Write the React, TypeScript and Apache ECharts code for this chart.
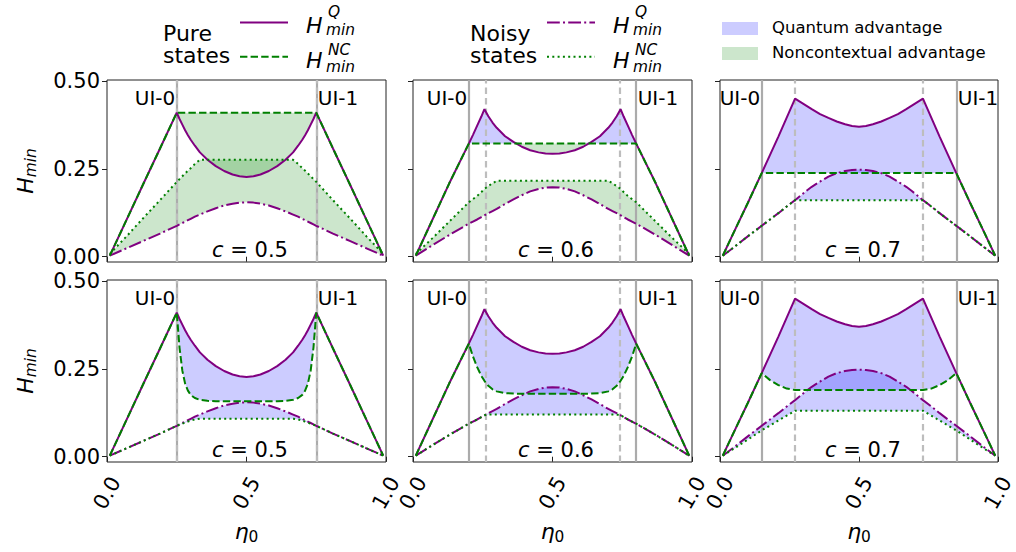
import React, { useEffect, useRef } from "react";
import * as echarts from "echarts";

// ---------- data ----------
// column 1 : c = 0.5
const ETA_05 = [0.01, 0.07, 0.13, 0.19, 0.25, 0.26, 0.27, 0.28, 0.29, 0.30, 0.315, 0.333, 0.36, 0.39, 0.42, 0.45, 0.475, 0.50, 0.525, 0.55, 0.58, 0.61, 0.64, 0.667, 0.685, 0.70, 0.71, 0.72, 0.73, 0.74, 0.75, 0.81, 0.87, 0.93, 0.99];
const PURE_Q_05 = [0.003, 0.105, 0.207, 0.308, 0.410, 0.392, 0.376, 0.360, 0.346, 0.333, 0.316, 0.297, 0.276, 0.258, 0.244, 0.234, 0.229, 0.227, 0.229, 0.234, 0.244, 0.258, 0.276, 0.297, 0.316, 0.333, 0.346, 0.360, 0.376, 0.392, 0.410, 0.308, 0.207, 0.105, 0.003];
const NOISY_Q_05 = [0.003, 0.024, 0.045, 0.066, 0.088, 0.092, 0.096, 0.100, 0.104, 0.108, 0.114, 0.120, 0.129, 0.138, 0.146, 0.151, 0.154, 0.155, 0.154, 0.151, 0.146, 0.138, 0.129, 0.120, 0.114, 0.108, 0.104, 0.100, 0.096, 0.092, 0.088, 0.066, 0.045, 0.024, 0.003];
const PURE_NC_TOP_05 = [0.003, 0.105, 0.207, 0.308, 0.410, 0.410, 0.410, 0.410, 0.410, 0.410, 0.410, 0.410, 0.410, 0.410, 0.410, 0.410, 0.410, 0.410, 0.410, 0.410, 0.410, 0.410, 0.410, 0.410, 0.410, 0.410, 0.410, 0.410, 0.410, 0.410, 0.410, 0.308, 0.207, 0.105, 0.003];
const NOISY_NC_TOP_05 = [0.008, 0.058, 0.110, 0.161, 0.213, 0.221, 0.229, 0.237, 0.245, 0.252, 0.264, 0.276, 0.276, 0.276, 0.276, 0.276, 0.276, 0.276, 0.276, 0.276, 0.276, 0.276, 0.276, 0.276, 0.264, 0.252, 0.245, 0.237, 0.229, 0.221, 0.213, 0.161, 0.110, 0.058, 0.008];
const PURE_NC_BOT_05 = [0.003, 0.105, 0.207, 0.308, 0.410, 0.310, 0.245, 0.208, 0.188, 0.176, 0.167, 0.162, 0.159, 0.158, 0.158, 0.158, 0.158, 0.158, 0.158, 0.158, 0.158, 0.158, 0.159, 0.162, 0.167, 0.176, 0.188, 0.208, 0.245, 0.310, 0.410, 0.308, 0.207, 0.105, 0.003];
const NOISY_NC_BOT_05 = [0.003, 0.024, 0.045, 0.066, 0.088, 0.091, 0.094, 0.097, 0.100, 0.103, 0.106, 0.108, 0.108, 0.108, 0.108, 0.108, 0.108, 0.108, 0.108, 0.108, 0.108, 0.108, 0.108, 0.108, 0.106, 0.103, 0.100, 0.097, 0.094, 0.091, 0.088, 0.066, 0.045, 0.024, 0.003];

// column 2 : c = 0.6
const ETA_06 = [0.01, 0.07, 0.13, 0.20, 0.215, 0.23, 0.245, 0.256, 0.27, 0.285, 0.30, 0.33, 0.36, 0.39, 0.42, 0.45, 0.475, 0.50, 0.525, 0.55, 0.58, 0.61, 0.64, 0.67, 0.70, 0.715, 0.73, 0.744, 0.755, 0.77, 0.785, 0.80, 0.87, 0.93, 0.99];
const PURE_Q_06 = [0.003, 0.106, 0.209, 0.322, 0.347, 0.373, 0.399, 0.420, 0.400, 0.382, 0.367, 0.343, 0.327, 0.313, 0.303, 0.297, 0.294, 0.293, 0.294, 0.297, 0.303, 0.313, 0.327, 0.343, 0.367, 0.382, 0.400, 0.420, 0.399, 0.373, 0.347, 0.322, 0.209, 0.106, 0.003];
const NOISY_Q_06 = [0.003, 0.033, 0.062, 0.094, 0.100, 0.106, 0.113, 0.118, 0.124, 0.130, 0.136, 0.150, 0.163, 0.175, 0.186, 0.193, 0.197, 0.198, 0.197, 0.193, 0.186, 0.175, 0.163, 0.150, 0.136, 0.130, 0.124, 0.118, 0.113, 0.106, 0.100, 0.094, 0.062, 0.033, 0.003];
const PURE_NC_TOP_06 = [0.003, 0.106, 0.209, 0.322, 0.322, 0.322, 0.322, 0.322, 0.322, 0.322, 0.322, 0.322, 0.322, 0.322, 0.322, 0.322, 0.322, 0.322, 0.322, 0.322, 0.322, 0.322, 0.322, 0.322, 0.322, 0.322, 0.322, 0.322, 0.322, 0.322, 0.322, 0.322, 0.209, 0.106, 0.003];
const NOISY_NC_TOP_06 = [0.008, 0.053, 0.100, 0.155, 0.164, 0.173, 0.184, 0.193, 0.201, 0.209, 0.216, 0.216, 0.216, 0.216, 0.216, 0.216, 0.216, 0.216, 0.216, 0.216, 0.216, 0.216, 0.216, 0.216, 0.216, 0.209, 0.201, 0.193, 0.184, 0.173, 0.164, 0.155, 0.100, 0.053, 0.008];
const PURE_NC_BOT_06 = [0.003, 0.106, 0.209, 0.322, 0.285, 0.255, 0.230, 0.216, 0.202, 0.192, 0.186, 0.181, 0.180, 0.179, 0.179, 0.179, 0.179, 0.179, 0.179, 0.179, 0.179, 0.179, 0.180, 0.181, 0.186, 0.192, 0.202, 0.216, 0.230, 0.255, 0.285, 0.322, 0.209, 0.106, 0.003];
const NOISY_NC_BOT_06 = [0.003, 0.033, 0.062, 0.094, 0.100, 0.106, 0.113, 0.118, 0.120, 0.120, 0.120, 0.120, 0.120, 0.120, 0.120, 0.120, 0.120, 0.120, 0.120, 0.120, 0.120, 0.120, 0.120, 0.120, 0.120, 0.120, 0.120, 0.118, 0.113, 0.106, 0.100, 0.094, 0.062, 0.033, 0.003];

// column 3 : c = 0.7
const ETA_07 = [0.01, 0.05, 0.10, 0.15, 0.18, 0.21, 0.24, 0.27, 0.29, 0.31, 0.33, 0.36, 0.39, 0.42, 0.45, 0.475, 0.50, 0.525, 0.55, 0.58, 0.61, 0.64, 0.67, 0.69, 0.71, 0.73, 0.76, 0.79, 0.82, 0.85, 0.90, 0.95, 0.99];
const PURE_Q_07 = [0.003, 0.070, 0.153, 0.238, 0.290, 0.342, 0.396, 0.450, 0.440, 0.430, 0.420, 0.406, 0.395, 0.385, 0.377, 0.372, 0.370, 0.372, 0.377, 0.385, 0.395, 0.406, 0.420, 0.430, 0.440, 0.450, 0.396, 0.342, 0.290, 0.238, 0.153, 0.070, 0.003];
const NOISY_Q_07 = [0.003, 0.027, 0.058, 0.088, 0.106, 0.124, 0.143, 0.161, 0.174, 0.187, 0.199, 0.214, 0.228, 0.238, 0.244, 0.247, 0.248, 0.247, 0.244, 0.238, 0.228, 0.214, 0.199, 0.187, 0.174, 0.161, 0.143, 0.124, 0.106, 0.088, 0.058, 0.027, 0.003];
const PURE_NC_TOP_07 = [0.003, 0.070, 0.153, 0.238, 0.238, 0.238, 0.238, 0.238, 0.238, 0.238, 0.238, 0.238, 0.238, 0.238, 0.238, 0.238, 0.238, 0.238, 0.238, 0.238, 0.238, 0.238, 0.238, 0.238, 0.238, 0.238, 0.238, 0.238, 0.238, 0.238, 0.153, 0.070, 0.003];
const NOISY_NC_TOP_07 = [0.003, 0.027, 0.058, 0.088, 0.106, 0.124, 0.143, 0.161, 0.161, 0.161, 0.161, 0.161, 0.161, 0.161, 0.161, 0.161, 0.161, 0.161, 0.161, 0.161, 0.161, 0.161, 0.161, 0.161, 0.161, 0.161, 0.143, 0.124, 0.106, 0.088, 0.058, 0.027, 0.003];
const PURE_NC_BOT_07 = [0.003, 0.070, 0.153, 0.238, 0.218, 0.204, 0.194, 0.190, 0.190, 0.190, 0.190, 0.190, 0.190, 0.190, 0.190, 0.190, 0.190, 0.190, 0.190, 0.190, 0.190, 0.190, 0.190, 0.190, 0.190, 0.190, 0.194, 0.204, 0.218, 0.238, 0.153, 0.070, 0.003];
const NOISY_NC_BOT_07 = [0.003, 0.023, 0.049, 0.075, 0.089, 0.103, 0.117, 0.131, 0.131, 0.131, 0.131, 0.131, 0.131, 0.131, 0.131, 0.131, 0.131, 0.131, 0.131, 0.131, 0.131, 0.131, 0.131, 0.131, 0.131, 0.131, 0.117, 0.103, 0.089, 0.075, 0.049, 0.023, 0.003];

const C_LABELS = ["0.5", "0.6", "0.7"];
const UI_EDGES = [[0.25, 0.75], [0.2, 0.8], [0.15, 0.85]];
const PEAKS = [[0.25, 0.75], [0.256, 0.744], [0.27, 0.73]];
const Y_TICKS = [0, 0.25, 0.5];
const UI_LABELS = ["UI-0", "UI-1"];
const FILL_LABELS = ["Quantum advantage", "Noncontextual advantage"];
const LEGEND_TITLES = ["Pure\nstates", "Noisy\nstates"];

// ---------- layout / style ----------
const Y_MIN = -0.015;
const Y_MAX = 0.503;
const COLS = [
  { left: 107, width: 279 },
  { left: 413, width: 279 },
  { left: 720, width: 278 },
];
const ROWS = [
  { top: 80, height: 182 },
  { top: 280, height: 182 },
];
const FONT = "'DejaVu Sans', sans-serif";
const PURPLE = "#800080";
const GREEN = "#008000";
const BLUE_FILL = "rgba(0,0,255,0.2)";
const GREEN_FILL = "rgba(0,128,0,0.2)";
const DASHED = [7.4, 3.2];
const DASHDOT = [12.8, 3.2, 2, 3.2];
const DOTTED = [2, 3.3];
const AXIS_COLOR = "#222";

const COLUMNS = [
  { eta: ETA_05, pureQ: PURE_Q_05, noisyQ: NOISY_Q_05, pureNC: [PURE_NC_TOP_05, PURE_NC_BOT_05], noisyNC: [NOISY_NC_TOP_05, NOISY_NC_BOT_05] },
  { eta: ETA_06, pureQ: PURE_Q_06, noisyQ: NOISY_Q_06, pureNC: [PURE_NC_TOP_06, PURE_NC_BOT_06], noisyNC: [NOISY_NC_TOP_06, NOISY_NC_BOT_06] },
  { eta: ETA_07, pureQ: PURE_Q_07, noisyQ: NOISY_Q_07, pureNC: [PURE_NC_TOP_07, PURE_NC_BOT_07], noisyNC: [NOISY_NC_TOP_07, NOISY_NC_BOT_07] },
];

const px = (col: number, eta: number) => COLS[col].left + eta * COLS[col].width;

function fillBetween(p: number, eta: number[], a: number[], b: number[], color: string) {
  // region where a > b, drawn between b and max(a, b)
  return {
    type: "custom",
    xAxisIndex: p,
    yAxisIndex: p,
    silent: true,
    z: 1,
    data: [[0.5, 0.2]],
    renderItem: (_params: any, api: any) => {
      const pts: number[][] = [];
      for (let i = 0; i < eta.length; i++) pts.push(api.coord([eta[i], Math.max(a[i], b[i])]));
      for (let i = eta.length - 1; i >= 0; i--) pts.push(api.coord([eta[i], b[i]]));
      return { type: "polygon", shape: { points: pts }, style: { fill: color, stroke: null } };
    },
  };
}

function lineSeries(p: number, eta: number[], vals: number[], color: string, dash: any, z: number, extra: any = {}) {
  return {
    type: "line",
    xAxisIndex: p,
    yAxisIndex: p,
    data: eta.map((x, i) => [x, vals[i]]),
    symbol: "none",
    showSymbol: false,
    silent: true,
    z,
    lineStyle: { color, width: 2, type: dash, cap: "butt" },
    emphasis: { disabled: true },
    ...extra,
  };
}

function textEl(text: string, x: number, y: number, size: number, align: string, extra: any = {}) {
  return {
    type: "text",
    x,
    y,
    silent: true,
    style: {
      text,
      fill: "#000",
      fontSize: size,
      fontFamily: FONT,
      align,
      textAlign: align,
      verticalAlign: "middle",
      textVerticalAlign: "middle",
      ...extra,
    },
  };
}

function vline(x: number, color: string, dash: any) {
  return { xAxis: x, lineStyle: { color, width: 2.2, type: dash, opacity: 1 } };
}

function buildOption() {
  const grid: any[] = [];
  const xAxis: any[] = [];
  const yAxis: any[] = [];
  const series: any[] = [];
  const graphic: any[] = [];

  for (let row = 0; row < 2; row++) {
    for (let col = 0; col < 3; col++) {
      const p = row * 3 + col;
      grid.push({
        left: COLS[col].left,
        top: ROWS[row].top,
        width: COLS[col].width,
        height: ROWS[row].height,
        show: true,
        borderColor: AXIS_COLOR,
        borderWidth: 1,
        backgroundColor: "transparent",
        containLabel: false,
        outerBoundsMode: "none",
      });
      xAxis.push({
        type: "value",
        gridIndex: p,
        min: 0,
        max: 1,
        interval: 0.5,
        axisLine: { show: false },
        axisTick: { show: true, length: 5, lineStyle: { color: AXIS_COLOR, width: 1 } },
        axisLabel: {
          show: row === 1,
          rotate: 60,
          align: "center",
          verticalAlign: "middle",
          margin: 31,
          fontSize: 21,
          fontFamily: FONT,
          color: "#000",
          formatter: (v: number) => v.toFixed(1),
        },
        splitLine: { show: false },
      });
      yAxis.push({
        type: "value",
        gridIndex: p,
        min: Y_MIN,
        max: Y_MAX,
        axisLine: { show: false },
        axisTick: { show: true, length: 5, customValues: Y_TICKS, lineStyle: { color: AXIS_COLOR, width: 1 } },
        axisLabel: {
          show: col === 0,
          customValues: Y_TICKS,
          margin: 7,
          fontSize: 21,
          fontFamily: FONT,
          color: "#000",
          formatter: (v: number) => v.toFixed(2),
        },
        splitLine: { show: false },
      });

      const c = COLUMNS[col];
      const pureNC = c.pureNC[row];
      const noisyNC = c.noisyNC[row];
      series.push(fillBetween(p, c.eta, c.pureQ, pureNC, BLUE_FILL));
      series.push(fillBetween(p, c.eta, pureNC, c.pureQ, GREEN_FILL));
      series.push(fillBetween(p, c.eta, c.noisyQ, noisyNC, BLUE_FILL));
      series.push(fillBetween(p, c.eta, noisyNC, c.noisyQ, GREEN_FILL));

      series.push(
        lineSeries(p, c.eta, c.pureQ, PURPLE, "solid", 3, {
          markLine: {
            silent: true,
            z: 2,
            animation: false,
            symbol: ["none", "none"],
            label: { show: false },
            emphasis: { disabled: true },
            lineStyle: { width: 2.2, color: "#aaaaaa", type: "solid", opacity: 1 },
            data: [
              ...UI_EDGES[col].map((x) => vline(x, "#ababab", "solid")),
              ...PEAKS[col].map((x) => vline(x, "#bdbdbd", [6.5, 4])),
            ],
          },
        })
      );
      series.push(lineSeries(p, c.eta, pureNC, GREEN, DASHED, 4));
      series.push(lineSeries(p, c.eta, c.noisyQ, PURPLE, DASHDOT, 3));
      series.push(lineSeries(p, c.eta, noisyNC, GREEN, DOTTED, 4));

      // annotations
      const ty = ROWS[row].top + 17.5;
      graphic.push(textEl(UI_LABELS[0], px(col, UI_EDGES[col][0]) - 1.5, ty, 20, "right"));
      graphic.push(textEl(UI_LABELS[1], px(col, UI_EDGES[col][1]) + 1.5, ty, 20, "left"));
      graphic.push(
        textEl("{c|c}{t| = " + C_LABELS[col] + "}", COLS[col].left + 143, ROWS[row].top + 170, 21, "center", {
          rich: {
            c: { fontSize: 21, fontFamily: FONT, fontStyle: "italic", fill: "#000", color: "#000" },
            t: { fontSize: 21, fontFamily: FONT, fill: "#000", color: "#000" },
          },
        })
      );
    }
  }

  // y labels
  for (let row = 0; row < 2; row++) {
    graphic.push({
      ...textEl("{h|H}{s|min}", 25, ROWS[row].top + ROWS[row].height / 2, 22, "center", {
        rich: {
          h: { fontSize: 22, fontFamily: FONT, fontStyle: "italic", lineHeight: 26, fill: "#000", color: "#000" },
          s: { fontSize: 15.4, fontFamily: FONT, fontStyle: "italic", lineHeight: 17, verticalAlign: "bottom", fill: "#000", color: "#000" },
        },
      }),
      rotation: Math.PI / 2,
    });
  }
  // x labels
  for (let col = 0; col < 3; col++) {
    graphic.push(
      textEl("{h|η}{s|0}", COLS[col].left + COLS[col].width / 2, 531, 22, "center", {
        rich: {
          h: { fontSize: 22, fontFamily: FONT, fontStyle: "italic", lineHeight: 26, fill: "#000", color: "#000" },
          s: { fontSize: 15.4, fontFamily: FONT, lineHeight: 16, verticalAlign: "bottom", fill: "#000", color: "#000" },
        },
      })
    );
  }

  // line legends (pure / noisy)
  const legends = [
    { dx: 0, q: "solid", nc: DASHED },
    { dx: 307, q: DASHDOT, nc: DOTTED },
  ];
  legends.forEach((lg, k) => {
    graphic.push(textEl(LEGEND_TITLES[k], 163 + lg.dx, 44.3, 22, "left", { lineHeight: 22 }));
    graphic.push({
      type: "line",
      silent: true,
      shape: { x1: 240 + lg.dx, y1: 22.5, x2: 288 + lg.dx, y2: 22.5 },
      style: { stroke: PURPLE, lineWidth: 2, lineDash: lg.q === "solid" ? null : lg.q },
    });
    graphic.push({
      type: "line",
      silent: true,
      shape: { x1: 240 + lg.dx, y1: 56.8, x2: 288 + lg.dx, y2: 56.8 },
      style: { stroke: GREEN, lineWidth: 2, lineDash: lg.nc },
    });
    graphic.push(textEl("H", 306 + lg.dx, 25.3, 22, "left", { fontStyle: "italic" }));
    graphic.push(textEl("Q", 328 + lg.dx, 11.8, 15.4, "left", { fontStyle: "italic" }));
    graphic.push(textEl("min", 326 + lg.dx, 29.8, 15.4, "left", { fontStyle: "italic" }));
    graphic.push(textEl("H", 306 + lg.dx, 60.3, 22, "left", { fontStyle: "italic" }));
    graphic.push(textEl("NC", 328 + lg.dx, 49.8, 15.4, "left", { fontStyle: "italic" }));
    graphic.push(textEl("min", 326 + lg.dx, 66.8, 15.4, "left", { fontStyle: "italic" }));
  });

  // fill legend
  [BLUE_FILL, GREEN_FILL].forEach((color, i) => {
    graphic.push({
      type: "rect",
      silent: true,
      shape: { x: 722, y: 22 + i * 25, width: 36, height: 13 },
      style: { fill: color },
    });
    graphic.push(textEl(FILL_LABELS[i], 772, 27.8 + i * 25, 16.5, "left"));
  });

  return {
    animation: false,
    backgroundColor: "#fff",
    textStyle: { fontFamily: FONT },
    grid,
    xAxis,
    yAxis,
    series,
    graphic: { elements: graphic },
  };
}

export default function App() {
  const ref = useRef<HTMLDivElement>(null);
  useEffect(() => {
    if (!ref.current) return;
    const chart = echarts.init(ref.current, null, { renderer: "svg" });
    chart.setOption(buildOption() as any);
    return () => chart.dispose();
  }, []);
  return (
    <div
      ref={ref}
      style={{ position: "fixed", left: 0, top: 0, width: 1016, height: 552, background: "#fff" }}
    />
  );
}
